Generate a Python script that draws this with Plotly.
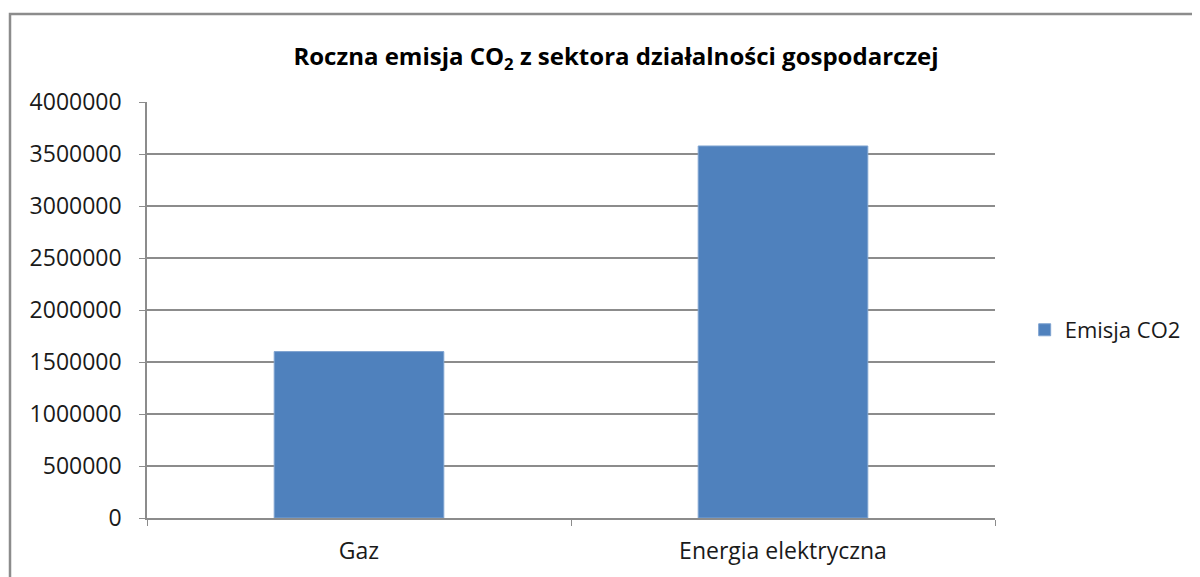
import plotly.graph_objects as go

categories = ["Gaz", "Energia elektryczna"]
emisja_co2 = [1600000, 3577000]
series_name = "Emisja CO2"
y_tick_values = [0, 500000, 1000000, 1500000, 2000000, 2500000, 3000000, 3500000, 4000000]

FONT = "Open Sans"
GRID = "#8c8c8c"

# page body has an 8px default margin; compensate so the plot lands where the reference has it
L, T, PW, PH = 139, 94, 848, 416

fig = go.Figure()
fig.add_trace(go.Bar(
    x=categories, y=emisja_co2, name=series_name,
    marker=dict(color="#4F81BD", line=dict(color="#7ea3d0", width=1)),
    showlegend=True,
))

fig.update_layout(
    width=1200, height=577,
    margin=dict(l=L, r=1200 - L - PW, t=T, b=577 - T - PH),
    paper_bgcolor="white", plot_bgcolor="white",
    font=dict(family=FONT, size=20, color="#1a1a1a"),
    bargap=0.6,
    title=dict(text="<b>Roczna emisja CO<sub>2</sub> z sektora działalności gospodarczej</b>",
               x=608/1200, xanchor="center", xref="container",
               y=1 - 49/577, yanchor="middle", yref="container",
               font=dict(family=FONT, size=24, color="#000000")),
    legend=dict(x=1.035, xanchor="left", y=0.452, yanchor="middle",
                font=dict(family=FONT, size=22, color="#1a1a1a"),
                bgcolor="rgba(0,0,0,0)"),
    xaxis=dict(showline=True, linecolor=GRID, linewidth=1.5,
               ticks="outside", ticklen=6, tickcolor=GRID, tickson="boundaries",
               ticklabelstandoff=12, showgrid=False,
               tickfont=dict(family=FONT, size=23, color="#1a1a1a")),
    yaxis=dict(range=[0, 4000000], tickvals=y_tick_values, tickformat="d",
               showline=True, linecolor=GRID, linewidth=1.5,
               ticks="outside", ticklen=6, tickcolor=GRID,
               showgrid=True, gridcolor=GRID, gridwidth=1.5,
               zeroline=False, ticklabelstandoff=13,
               tickfont=dict(family=FONT, size=23, color="#1a1a1a")),
    shapes=[dict(type="rect", xref="paper", yref="paper",
                 x0=(2 - L) / PW, x1=1.4, y0=-0.5, y1=1 + (T - 6) / PH,
                 line=dict(color="#8c8c8c", width=2.5), fillcolor="rgba(0,0,0,0)",
                 layer="below")],
)

fig.write_html("out.html")
